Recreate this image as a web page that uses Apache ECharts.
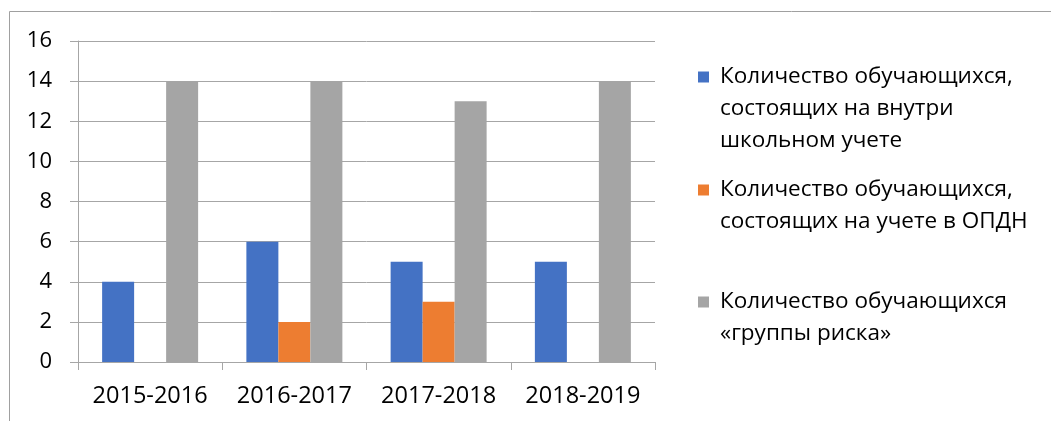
<!DOCTYPE html>
<html>
<head>
<meta charset="utf-8">
<script src="https://cdn.jsdelivr.net/npm/echarts@6/dist/echarts.min.js"></script>
<style>
  html, body { margin: 0; padding: 0; background: #fff; }
  #chart { width: 1051px; height: 421px; }
</style>
</head>
<body>
<div id="chart"></div>
<script>
var categories = ['2015-2016', '2016-2017', '2017-2018', '2018-2019'];
var seriesNames = [
  'Количество обучающихся,\nсостоящих на внутри\nшкольном учете',
  'Количество обучающихся,\nсостоящих на учете в ОПДН',
  'Количество обучающихся\n«группы риска»'
];
var schoolValues = [4, 6, 5, 5];
var opdnValues = [0, 2, 3, 0];
var riskValues = [14, 14, 13, 14];
var yTicks = { min: 0, max: 16, interval: 2 };

var font = 'Open Sans';
var colors = ['#4472C4', '#ED7D31', '#A5A5A5'];

// blank lines in front keep the icon level with the first text line
function legendFor(name, top) {
  var lines = name.split('\n').length;
  return {
    data: [name],
    left: 698,
    top: top,
    orient: 'vertical',
    padding: 0,
    itemWidth: 11,
    itemHeight: 11,
    icon: 'rect',
    selectedMode: false,
    formatter: function (n) {
      return new Array(lines).join('\n') + n;
    },
    textStyle: {
      fontFamily: font,
      fontSize: 22.5,
      color: '#000',
      lineHeight: 32,
      padding: [0, 0, 0, 6]
    }
  };
}

var chart = echarts.init(document.getElementById('chart'));
chart.setOption({
  animation: false,
  color: colors,
  graphic: [{
    type: 'rect',
    shape: { x: 9.5, y: 11.5, width: 1200, height: 600 },
    style: { fill: 'none', stroke: '#a0a0a0', lineWidth: 1 },
    silent: true
  }],
  grid: { left: 78, right: 396, top: 41, bottom: 59, containLabel: false },
  legend: [
    legendFor(seriesNames[0], -3),
    legendFor(seriesNames[1], 142),
    legendFor(seriesNames[2], 254)
  ],
  xAxis: {
    type: 'category',
    data: categories,
    axisLine: { lineStyle: { color: '#a6a6a6', width: 1 } },
    axisTick: { show: true, length: 8, lineStyle: { color: '#a6a6a6' } },
    axisLabel: { fontFamily: font, fontSize: 23.5, color: '#000', margin: 22, interval: 0, hideOverlap: false },
    splitLine: { show: false }
  },
  yAxis: {
    type: 'value',
    min: yTicks.min,
    max: yTicks.max,
    interval: yTicks.interval,
    axisLine: { show: true, lineStyle: { color: '#a6a6a6', width: 1 } },
    axisTick: { show: true, length: 8, lineStyle: { color: '#a6a6a6' } },
    axisLabel: { fontFamily: font, fontSize: 22, color: '#000', margin: 26 },
    splitLine: { show: true, lineStyle: { color: '#a6a6a6', width: 1 } }
  },
  series: [
    { name: seriesNames[0], type: 'bar', data: schoolValues, barWidth: 32, barGap: '0%' },
    { name: seriesNames[1], type: 'bar', data: opdnValues, barWidth: 32, barGap: '0%' },
    { name: seriesNames[2], type: 'bar', data: riskValues, barWidth: 32, barGap: '0%' }
  ]
});
</script>
</body>
</html>
